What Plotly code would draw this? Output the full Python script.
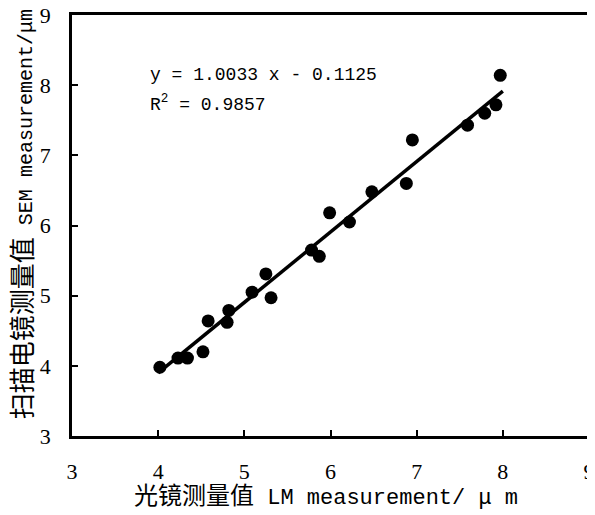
import plotly.graph_objects as go

lm = [4.02, 4.23, 4.34, 4.52, 4.58, 4.80, 4.82, 5.09, 5.25, 5.31,
      5.78, 5.87, 5.99, 6.22, 6.48, 6.88, 6.95, 7.59, 7.79, 7.92, 7.97]
sem = [3.98, 4.11, 4.11, 4.20, 4.64, 4.62, 4.79, 5.05, 5.31, 4.97,
       5.65, 5.56, 6.18, 6.05, 6.48, 6.60, 7.22, 7.43, 7.60, 7.72, 8.14]
slope, intercept = 1.0033, -0.1125
fit_x = [4.0, 8.0]
fit_y = [slope * v + intercept for v in fit_x]
ticks = [3, 4, 5, 6, 7, 8, 9]

fig = go.Figure()
fig.add_trace(go.Scatter(x=fit_x, y=fit_y, mode="lines",
                         line=dict(color="black", width=3.5), showlegend=False))
fig.add_trace(go.Scatter(x=lm, y=sem, mode="markers",
                         marker=dict(color="black", size=13), showlegend=False))

fig.add_annotation(x=3.88, y=8.14, xref="x", yref="y", xanchor="left", yanchor="middle",
                   text="y = 1.0033 x - 0.1125", showarrow=False,
                   font=dict(family="Liberation Mono", size=18, color="black"))
fig.add_annotation(x=3.88, y=7.74, xref="x", yref="y", xanchor="left", yanchor="middle",
                   text="R<sup>2</sup> = 0.9857", showarrow=False,
                   font=dict(family="Liberation Mono", size=18, color="black"))

# axis titles as annotations for precise placement
fig.add_annotation(x=0.491, y=-0.145, xref="paper", yref="paper",
                   xanchor="center", yanchor="middle", showarrow=False,
                   text='<span style="font-size:24px">光镜测量值</span> LM measurement/ μ m',
                   font=dict(family="Liberation Mono, Noto Sans CJK SC", size=22, color="black"))
fig.add_annotation(x=-0.092, y=0.528, xref="paper", yref="paper",
                   xanchor="center", yanchor="middle", showarrow=False, textangle=-90,
                   text='<span style="font-size:26px">扫描电镜测量值</span> SEM measurement/μm',
                   font=dict(family="Liberation Mono, Noto Sans CJK SC", size=20, color="black"))

axis_common = dict(showline=True, linecolor="black", linewidth=2.5, mirror=True,
                   ticks="inside", ticklen=6, tickwidth=1.5, tickcolor="black",
                   showgrid=False, zeroline=False, automargin=False,
                   ticklabeloverflow="allow",
                   tickfont=dict(family="Liberation Serif, Times New Roman, serif", size=22, color="black"))

fig.update_xaxes(range=[3, 9], tickvals=ticks, ticktext=[str(t) for t in ticks],
                 ticklabelstandoff=14, **axis_common)
fig.update_yaxes(range=[3, 9], tickvals=ticks, ticktext=[str(t) for t in ticks],
                 ticklabelstandoff=14, **axis_common)

# page body has an 8px margin, so the figure is sized and offset accordingly
fig.update_layout(width=587, height=507, plot_bgcolor="white", paper_bgcolor="white",
                  margin=dict(l=64, r=6, t=7, b=79))

fig.write_html("out.html")
